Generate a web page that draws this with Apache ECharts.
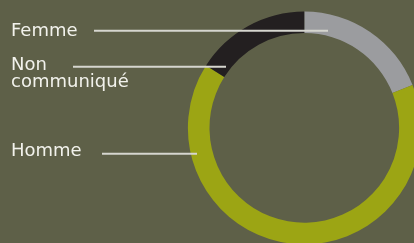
<!DOCTYPE html>
<html>
<head>
<meta charset="utf-8">
<script src="https://cdn.jsdelivr.net/npm/echarts@6/dist/echarts.min.js"></script>
<style>
html,body{margin:0;padding:0;background:#5e6048;}
#c{width:414px;height:243px;}
</style>
</head>
<body>
<div id="c"></div>
<script>
var categories = ["Femme", "Homme", "Non communiqué"];
var values = [19, 65, 16];
var colors = ["#9b9c9f", "#9ca514", "#231f20"];

// annotation placement (label text top-left and leader line span)
var annot = {
  "Femme": {x: 11, y: 22, lx1: 94, lx2: 328, ly: 30.7},
  "Non communiqué": {x: 11, y: 56, lx1: 73, lx2: 226, ly: 66.7},
  "Homme": {x: 11, y: 142, lx1: 102, lx2: 197, ly: 153.7}
};

var graphics = [];
categories.forEach(function (c) {
  var a = annot[c];
  graphics.push({
    type: 'text', left: a.x, top: a.y, z: 100,
    style: {
      text: c.replace(' ', '\n'),
      fill: '#f2f2ec',
      font: '18px "DejaVu Sans"',
      lineHeight: 17
    }
  });
  graphics.push({
    type: 'line', z: 100,
    shape: {x1: a.lx1, y1: a.ly, x2: a.lx2, y2: a.ly},
    style: {stroke: '#d6d6cf', lineWidth: 2}
  });
});

var chart = echarts.init(document.getElementById('c'), null, {renderer: 'canvas'});
chart.setOption({
  backgroundColor: '#5e6048',
  animation: false,
  graphic: graphics,
  series: [{
    type: 'pie',
    center: [304.3, 127.9],
    radius: [94.8, 116.4],
    startAngle: 90,
    clockwise: true,
    silent: true,
    emphasis: {disabled: true},
    label: {show: false},
    labelLine: {show: false},
    data: categories.map(function (c, i) {
      return {name: c, value: values[i], itemStyle: {color: colors[i]}};
    })
  }]
});
</script>
</body>
</html>
